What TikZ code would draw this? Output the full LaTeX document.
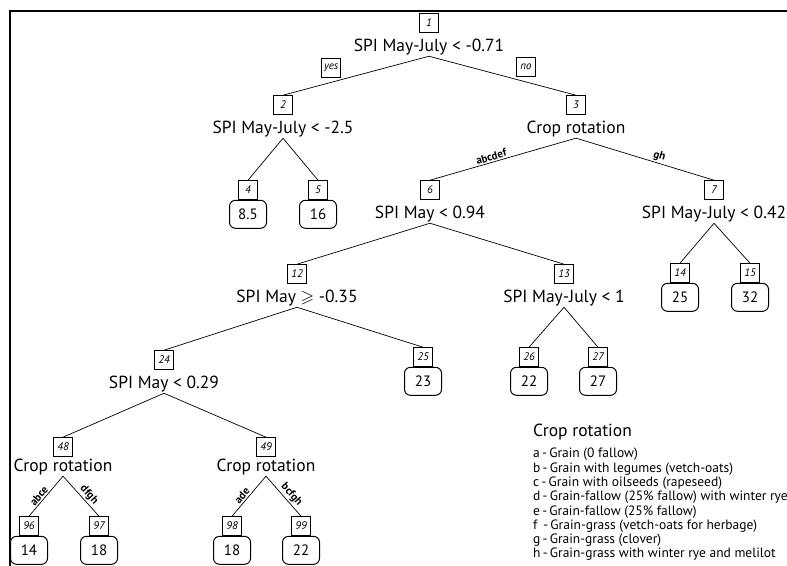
\documentclass[tikz,border=0pt]{standalone}
\usepackage{fontspec}
\usepackage{amssymb}
\setmainfont{PT Sans}
\usetikzlibrary{positioning}
\tikzset{
  nbox/.style={draw, line width=0.6pt, minimum width=19pt, minimum height=19pt, inner sep=0pt, font=\fontsize{11}{12}\selectfont\itshape},
  cond/.style={inner sep=1pt, font=\fontsize{17.5}{20}\selectfont},
  leaf/.style={draw, line width=1pt, rounded corners=6pt, minimum width=37pt, minimum height=28pt, inner sep=0pt, font=\fontsize{15}{16}\selectfont},
  split/.style={font=\fontsize{11}{12}\selectfont\bfseries, sloped, above, inner sep=1.5pt},
  branch/.style={line width=0.7pt},
  legend/.style={align=left, inner sep=0pt, font=\fontsize{13.5}{14.3}\selectfont},
}
\begin{document}
\begin{tikzpicture}[x=1pt, y=-1pt]
  \useasboundingbox (0,0) rectangle (787,565);
  \draw[line width=2pt] (10,570) -- (10,11) -- (790,11);
  \node[nbox] (n1) at (429,23) {1};
  \node[cond, below=5pt of n1] (c1) {SPI May-July < -0.71};
  \node[nbox] (n2) at (283,105) {2};
  \node[cond, below=5pt of n2] (c2) {SPI May-July < -2.5};
  \node[nbox] (n3) at (576,105) {3};
  \node[cond, below=5pt of n3] (c3) {Crop rotation};
  \node[nbox] (n4) at (248,190) {4};
  \node[leaf, below=0pt of n4] (l4) {8.5};
  \node[nbox] (n5) at (318,190) {5};
  \node[leaf, below=0pt of n5] (l5) {16};
  \node[nbox] (n6) at (430,190) {6};
  \node[cond, below=5pt of n6] (c6) {SPI May < 0.94};
  \node[nbox] (n7) at (714,190) {7};
  \node[cond, below=5pt of n7] (c7) {SPI May-July < 0.42};
  \node[nbox] (n12) at (297,274) {12};
  \node[cond, below=5pt of n12] (c12) {SPI May $\geqslant$ -0.35};
  \node[nbox] (n13) at (564,274) {13};
  \node[cond, below=5pt of n13] (c13) {SPI May-July < 1};
  \node[nbox] (n14) at (680,273) {14};
  \node[leaf, below=0pt of n14] (l14) {25};
  \node[nbox] (n15) at (750,273) {15};
  \node[leaf, below=0pt of n15] (l15) {32};
  \node[nbox] (n24) at (164,360) {24};
  \node[cond, below=5pt of n24] (c24) {SPI May < 0.29};
  \node[nbox] (n25) at (423,357) {25};
  \node[leaf, below=0pt of n25] (l25) {23};
  \node[nbox] (n26) at (529,357) {26};
  \node[leaf, below=0pt of n26] (l26) {22};
  \node[nbox] (n27) at (598,357) {27};
  \node[leaf, below=0pt of n27] (l27) {27};
  \node[nbox] (n48) at (63,447) {48};
  \node[cond, below=1pt of n48] (c48) {Crop rotation};
  \node[nbox] (n49) at (266,447) {49};
  \node[cond, below=1pt of n49] (c49) {Crop rotation};
  \node[nbox] (n96) at (29,526) {96};
  \node[leaf, below=0pt of n96] (l96) {14};
  \node[nbox] (n97) at (99,526) {97};
  \node[leaf, below=0pt of n97] (l97) {18};
  \node[nbox] (n98) at (232,526) {98};
  \node[leaf, below=0pt of n98] (l98) {18};
  \node[nbox] (n99) at (301,526) {99};
  \node[leaf, below=0pt of n99] (l99) {22};
  \draw[branch] (c1.south) -- node[nbox, pos=0.67, above=5pt] {yes} (n2.north);
  \draw[branch] (c1.south) -- node[nbox, pos=0.66, above=5pt] {no} (n3.north);
  \draw[branch] (c2.south) -- (n4.north);
  \draw[branch] (c2.south) -- (n5.north);
  \draw[branch] (c3.south) -- node[split, pos=0.57] {abcdef} (n6.north);
  \draw[branch] (c3.south) -- node[split, pos=0.59] {gh} (n7.north);
  \draw[branch] (c6.south) -- (n12.north);
  \draw[branch] (c6.south) -- (n13.north);
  \draw[branch] (c7.south) -- (n14.north);
  \draw[branch] (c7.south) -- (n15.north);
  \draw[branch] (c12.south) -- (n24.north);
  \draw[branch] (c12.south) -- (n25.north);
  \draw[branch] (c13.south) -- (n26.north);
  \draw[branch] (c13.south) -- (n27.north);
  \draw[branch] (c24.south) -- (n48.north);
  \draw[branch] (c24.south) -- (n49.north);
  \draw[branch] (c48.south) -- node[split, pos=0.58] {abce} (n96.north);
  \draw[branch] (c48.south) -- node[split, pos=0.58] {dfgh} (n97.north);
  \draw[branch] (c49.south) -- node[split, pos=0.58] {ade} (n98.north);
  \draw[branch] (c49.south) -- node[split, pos=0.58] {bcfgh} (n99.north);
  \node[cond, anchor=west] (lt) at (532,432) {Crop rotation};
  \node[legend, anchor=north west] (lg) at (533,448) {a\,-\,Grain (0 fallow)\\
    b\,-\,Grain with legumes (vetch-oats)\\
    c\,-\,Grain with oilseeds (rapeseed)\\
    d\,-\,Grain-fallow (25\% fallow) with winter rye\\
    e\,-\,Grain-fallow (25\% fallow)\\
    f\ \,-\,Grain-grass (vetch-oats for herbage)\\
    g\,-\,Grain-grass (clover)\\
    h\,-\,Grain-grass with winter rye and melilot};
\end{tikzpicture}
\end{document}
